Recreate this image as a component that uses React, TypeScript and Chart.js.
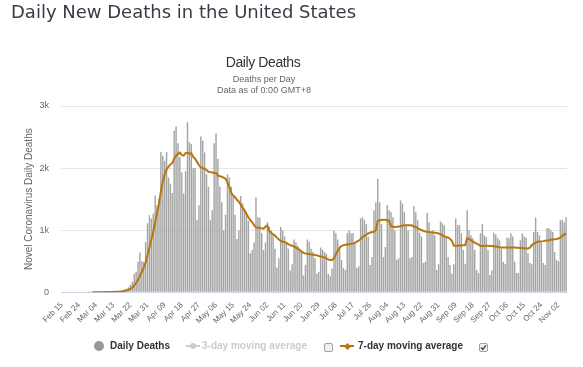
import React, { useEffect, useRef } from 'react';
import { Chart, registerables } from 'chart.js';

Chart.register(...registerables);

const FONT = '"Liberation Sans", Arial, Helvetica, sans-serif';
const BAR_COLOR = '#a4a4a4';
const MA_COLOR = '#b7760f';

const MONTH_NAMES = ['Jan', 'Feb', 'Mar', 'Apr', 'May', 'Jun', 'Jul', 'Aug', 'Sep', 'Oct', 'Nov', 'Dec'];
const MONTH_DAYS = [31, 29, 31, 30, 31, 30, 31, 31, 30, 31, 30, 31];
const FIRST_MONTH = 1; // Feb (2020)
const FIRST_DAY = 15;
const DAY_COUNT = 266; // Feb 15 .. Nov 06
const TICK_EVERY = 9;

// Daily deaths, Feb 15 .. Nov 06
const dailyDeaths: number[] = [
  0, 0, 0, 0, 0, 0, 0, 0, 0, 0,
  0, 0, 0, 0, 1, 1, 4, 1, 4, 1,
  2, 3, 4, 4, 6, 8, 7, 11, 10, 11,
  23, 25, 34, 51, 63, 80, 120, 170, 300, 330,
  490, 640, 500, 490, 810, 1110, 1240, 1190, 1270, 1560,
  1400, 1510, 2260, 2200, 2120, 2260, 1850, 1750, 1600, 2600,
  2670, 2400, 2180, 1930, 1590, 1950, 2740, 2420, 2390, 2000,
  2000, 1160, 1400, 2510, 2440, 2250, 1900, 1700, 1160, 1320,
  2400, 2560, 2150, 1700, 1450, 1000, 1250, 1900, 1850, 1700,
  1560, 1250, 860, 1000, 1550, 1430, 1300, 1250, 1150, 630,
  680, 800, 1530, 1210, 1200, 950, 680, 800, 1130, 1050,
  1000, 930, 700, 400, 550, 1050, 1000, 900, 800, 700,
  350, 450, 850, 800, 750, 700, 650, 270, 440, 850,
  810, 700, 650, 550, 300, 330, 720, 690, 650, 620,
  300, 260, 380, 990, 950, 850, 700, 520, 390, 360,
  950, 1000, 950, 950, 800, 390, 420, 1190, 1210, 1160,
  1100, 900, 440, 570, 1320, 1450, 1830, 1450, 1100, 570,
  730, 1400, 1320, 1290, 1210, 1000, 520, 550, 1480, 1430,
  1290, 1080, 1000, 550, 570, 1390, 1290, 1160, 960, 900,
  470, 490, 1280, 1130, 970, 1000, 920, 360, 450, 1140,
  1110, 1080, 890, 570, 440, 300, 450, 1190, 1080, 1080,
  950, 680, 460, 1320, 1000, 920, 870, 680, 360, 310,
  950, 1100, 920, 890, 680, 280, 350, 960, 930, 880,
  840, 700, 490, 460, 880, 870, 950, 900, 490, 310,
  310, 840, 950, 900, 880, 630, 470, 450, 970, 1200,
  970, 920, 800, 470, 440, 1030, 1030, 1000, 970, 650,
  520, 500, 1160, 1170, 1130, 1210,
];

// 7-day moving average as drawn (starts Mar 02)
const movingAvg7: (number | null)[] = [
  null, null, null, null, null, null, null, null, null, null,
  null, null, null, null, null, null,
  1, 1, 2, 2, 2, 2, 2, 3, 3, 4,
  5, 6, 7, 8, 10, 13, 17, 24, 30, 40,
  55, 75, 110, 150, 200, 260, 330, 400, 480, 600,
  720, 850, 980, 1120, 1280, 1430, 1620, 1780, 1900, 1980,
  2020, 2060, 2080, 2150, 2200, 2230, 2250, 2210, 2200, 2240,
  2250, 2230, 2240, 2180, 2150, 2100, 2050, 2010, 2000, 1990,
  1970, 1940, 1935, 1930, 1920, 1920, 1880, 1870, 1860, 1845,
  1830, 1770, 1700, 1600, 1560, 1530, 1490, 1460, 1410, 1360,
  1320, 1260, 1210, 1160, 1130, 1080, 1045, 1040, 1040, 1030,
  1025, 1060, 1075, 980, 960, 935, 915, 880, 850, 830,
  815, 810, 795, 775, 760, 750, 735, 720, 700, 680,
  655, 635, 625, 620, 615, 610, 605, 600, 595, 585,
  578, 570, 561, 545, 530, 520, 519, 545, 610, 670,
  722, 745, 760, 765, 770, 775, 780, 785, 797, 815,
  830, 855, 890, 910, 930, 947, 960, 970, 975, 1000,
  1150, 1160, 1165, 1170, 1170, 1160, 1150, 1065, 1055, 1053,
  1055, 1060, 1065, 1075, 1080, 1080, 1080, 1080, 1075, 1060,
  1050, 1035, 1015, 1000, 990, 980, 973, 970, 968, 963,
  960, 955, 947, 935, 915, 900, 890, 882, 860, 830,
  750, 749, 749, 752, 755, 758, 760, 870, 855, 840,
  815, 800, 785, 770, 745, 745, 748, 749, 748, 746,
  745, 743, 738, 733, 725, 722, 722, 722, 722, 722,
  720, 722, 720, 718, 717, 715, 712, 710, 706, 705,
  720, 760, 780, 800, 813, 818, 820, 824, 830, 836,
  840, 845, 850, 855, 858, 866, 880, 910, 930, 947,
];

const categories: string[] = [];
{
  let m = FIRST_MONTH;
  let d = FIRST_DAY;
  for (let k = 0; k < DAY_COUNT; k++) {
    categories.push(`${MONTH_NAMES[m]} ${String(d).padStart(2, '0')}`);
    d++;
    if (d > MONTH_DAYS[m]) { d = 1; m++; }
  }
}

const abs = (o: React.CSSProperties): React.CSSProperties => ({ position: 'absolute', whiteSpace: 'nowrap', ...o });

const legendText: React.CSSProperties = {
  position: 'absolute', top: 339.7, lineHeight: '12px', fontFamily: FONT, fontSize: 10,
  fontWeight: 'bold', whiteSpace: 'nowrap',
};

export default function App() {
  const ref = useRef<HTMLCanvasElement | null>(null);

  useEffect(() => {
    if (!ref.current) return;
    const chart = new Chart(ref.current, {
      type: 'bar',
      data: {
        labels: categories,
        datasets: [
          {
            type: 'line',
            label: '7-day moving average',
            data: movingAvg7 as any,
            borderColor: MA_COLOR,
            backgroundColor: MA_COLOR,
            borderWidth: 2,
            pointRadius: 0,
            fill: false,
            tension: 0,
            order: 0,
          } as any,
          {
            type: 'bar',
            label: 'Daily Deaths',
            data: dailyDeaths,
            backgroundColor: BAR_COLOR,
            barPercentage: 0.75,
            categoryPercentage: 1,
            order: 1,
          } as any,
        ],
      },
      options: {
        responsive: false,
        animation: false,
        devicePixelRatio: 1,
        layout: { padding: { top: 106, left: 23.5, right: 16, bottom: 0 } },
        plugins: {
          legend: { display: false },
          tooltip: { enabled: false },
          title: { display: false },
        },
        scales: {
          x: {
            offset: true,
            grid: { display: false, drawTicks: false },
            border: { display: true, color: '#ccd6eb', width: 1 },
            ticks: {
              autoSkip: false,
              maxRotation: 45,
              minRotation: 45,
              padding: 8,
              color: '#666666',
              font: { size: 8, family: FONT },
              callback: (_v: any, i: number) => (i % TICK_EVERY === 0 ? categories[i] : null),
            },
            afterFit: (s: any) => { s.height = 74.7; },
          },
          y: {
            min: 0,
            max: 3000,
            grid: {
              drawTicks: false,
              color: (c: any) => (c.tick && c.tick.value === 0 ? '#ccd6eb' : '#e6e6e6'),
            },
            border: { display: false },
            ticks: {
              stepSize: 1000,
              padding: 12,
              color: '#666666',
              font: { size: 9, family: FONT },
              callback: (v: any) => (Number(v) === 0 ? '0' : `${Number(v) / 1000}k`),
            },
            title: {
              display: true,
              text: 'Novel Coronavirus Daily Deaths',
              color: '#666666',
              font: { size: 10, family: FONT },
              padding: 0,
            },
            afterFit: (s: any) => { s.width = 37.5; },
          },
        },
      } as any,
    });
    return () => chart.destroy();
  }, []);

  return (
    <div style={{ position: 'fixed', left: 0, top: 0, width: 583, height: 367, background: '#fff', overflow: 'hidden' }}>
      <canvas ref={ref} width={583} height={367} style={{ position: 'absolute', left: 0, top: 0, width: 583, height: 367 }} />
      <div style={abs({ left: 11, top: 1, fontFamily: '"DejaVu Sans", sans-serif', fontSize: 18, lineHeight: '21px', color: '#3b3b48' })}>
        Daily New Deaths in the United States
      </div>
      <div style={abs({ left: 0, width: 526, top: 54, textAlign: 'center', fontFamily: FONT, fontSize: 14, lineHeight: '16px', color: '#333333', letterSpacing: -0.4 })}>
        Daily Deaths
      </div>
      <div style={abs({ left: 0, width: 528, top: 73.5, textAlign: 'center', fontFamily: FONT, fontSize: 9, lineHeight: '11px', color: '#666666' })}>
        Deaths per Day
      </div>
      <div style={abs({ left: 0, width: 528, top: 85, textAlign: 'center', fontFamily: FONT, fontSize: 9, lineHeight: '11px', color: '#666666' })}>
        Data as of 0:00 GMT+8
      </div>

      {/* legend */}
      <div style={abs({ left: 94, top: 340.7, width: 10, height: 10, borderRadius: '50%', background: '#999999' })} />
      <span style={{ ...legendText, left: 110, color: '#333333' }}>Daily Deaths</span>

      <div style={abs({ left: 186, top: 345, width: 14, height: 2, background: '#cccccc' })} />
      <div style={abs({ left: 190, top: 343, width: 6, height: 6, borderRadius: '50%', background: '#cccccc' })} />
      <span style={{ ...legendText, left: 202, color: '#cccccc' }}>3-day moving average</span>
      <div style={abs({ left: 324, top: 343, width: 7, height: 7, border: '1px solid #a0a0a0', borderRadius: 2, background: '#f0f0f0' })} />

      <div style={abs({ left: 340, top: 345, width: 14, height: 2, background: MA_COLOR })} />
      <div style={abs({ left: 344.5, top: 343.5, width: 5, height: 5, background: MA_COLOR, transform: 'rotate(45deg)' })} />
      <span style={{ ...legendText, left: 358, color: '#333333' }}>7-day moving average</span>
      <div style={abs({ left: 479, top: 343, width: 7, height: 7, border: '1px solid #a0a0a0', borderRadius: 2, background: '#f0f0f0' })}>
        <svg width="7" height="7" viewBox="0 0 7 7" style={{ position: 'absolute', left: 0, top: 0 }}>
          <path d="M1 3.6 L2.8 5.4 L6 1.4" stroke="#444" strokeWidth="1.4" fill="none" />
        </svg>
      </div>
    </div>
  );
}
